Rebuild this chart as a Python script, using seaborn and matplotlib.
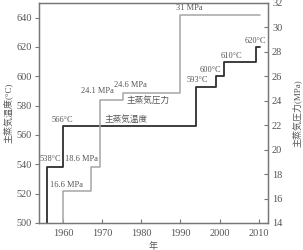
import matplotlib
matplotlib.use("Agg")
import matplotlib.pyplot as plt
import seaborn as sns
import pandas as pd

# main steam temperature steps (year, degC) - first point is the axis floor
temp_years = [1956, 1956, 1960, 1994, 1999, 2001, 2009.4, 2010.4]
temp_vals = [500, 538, 566, 593, 600, 610, 620, 620]

# main steam pressure steps (year, MPa)
press_years = [1960, 1960, 1967.2, 1969.5, 1975.3, 1990, 2010.4]
press_vals = [14, 16.6, 18.6, 24.1, 24.6, 31, 31]

temp_labels = ["538°C", "566°C", "593°C", "600°C", "610°C", "620°C"]
press_labels = ["16.6 MPa", "18.6 MPa", "24.1 MPa", "24.6 MPa", "31 MPa"]

temp_df = pd.DataFrame({"year": temp_years, "temp": temp_vals})
press_df = pd.DataFrame({"year": press_years, "press": press_vals})

sns.set_style("ticks")
plt.rcParams["font.family"] = ["Liberation Serif", "Noto Sans CJK JP"]

txt = "#555555"
dark = "#2e2e2e"
light = "#a6a6a6"

fig = plt.figure(figsize=(3.03, 2.5), dpi=100)
ax = fig.add_axes([0.129, 0.108, 0.755, 0.880])
ax2 = ax.twinx()

sns.lineplot(data=temp_df, x="year", y="temp", ax=ax, estimator=None, sort=False,
             drawstyle="steps-post", color=dark, linewidth=1.3)
sns.lineplot(data=press_df, x="year", y="press", ax=ax2, estimator=None, sort=False,
             drawstyle="steps-post", color=light, linewidth=1.1)

ax.set_xlim(1953.9, 2012.3)
ax.set_ylim(500, 650)
ax2.set_ylim(14, 32)
ax.set_xticks([1960, 1970, 1980, 1990, 2000, 2010])
ax.set_yticks(range(500, 641, 20))
ax2.set_yticks(range(14, 33, 2))

ax.set_xlabel("年", fontsize=6.5, color=txt, labelpad=3)
ax.set_ylabel("主蒸気温度(°C)", fontsize=6.5, color=txt, labelpad=3)
ax2.set_ylabel("主蒸気圧力(MPa)", fontsize=6.5, color=txt, rotation=90, labelpad=7)

ax.tick_params(axis="x", direction="in", length=3, width=0.8, colors="#777777",
               labelcolor=txt, labelsize=7.4, pad=4)
ax.tick_params(axis="y", direction="out", length=3, width=0.8, colors="#777777",
               labelcolor=txt, labelsize=7.4, pad=2)
ax2.tick_params(axis="y", direction="in", length=3, width=0.8, colors="#777777",
                labelcolor=txt, labelsize=7.4, pad=3)

for a in (ax, ax2):
    for s in a.spines.values():
        s.set_visible(True)
        s.set_color("#777777")
        s.set_linewidth(0.9)

fs = 6
# temperature labels (left axis): (x, y, horizontal alignment)
temp_pos = [(1954.1, 543.5, "left"), (1959.8, 570, "center"), (1994.3, 597.2, "center"),
            (1997.6, 604, "center"), (2003.0, 614.2, "center"), (2009.1, 624.4, "center")]
for lab, (x, y, ha) in zip(temp_labels, temp_pos):
    ax.text(x, y, lab, fontsize=fs, color=txt, ha=ha, va="center")
ax.text(1976.2, 570.7, "主蒸気温度", fontsize=6.2, color=txt, ha="center", va="center")

# pressure labels (right axis)
press_pos = [(1960.9, 17.07, "center"), (1960.4, 19.2, "left"), (1968.8, 24.76, "center"),
             (1977.1, 25.33, "center"), (1992.2, 31.55, "center")]
for lab, (x, y, ha) in zip(press_labels, press_pos):
    ax2.text(x, y, lab, fontsize=fs, color=txt, ha=ha, va="center")
ax2.text(1981.8, 24.02, "主蒸気圧力", fontsize=6.2, color=txt, ha="center", va="center")

fig.savefig("out.png", dpi=100)
